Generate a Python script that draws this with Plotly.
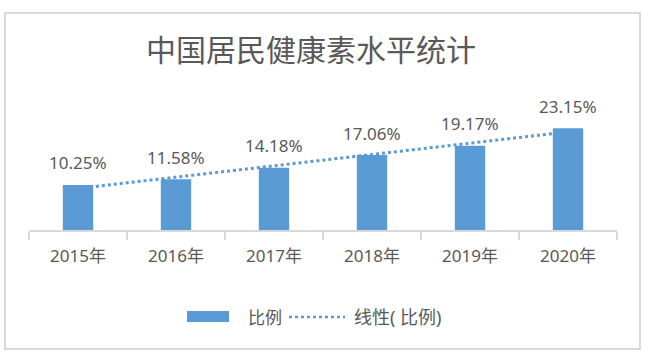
import numpy as np
import plotly.graph_objects as go

categories = ["2015年", "2016年", "2017年", "2018年", "2019年", "2020年"]
ratio = [10.25, 11.58, 14.18, 17.06, 19.17, 23.15]
title_text = "中国居民健康素水平统计"
series_name = "比例"
trend_name = "线性( 比例)"

BAR = "#5B9BD5"
TXT = "#595959"
GRID = "#D9D9D9"
FONT = "Noto Sans, Noto Sans CJK SC, sans-serif"

W, H = 650, 361
L, R, T, B = 29, 33, 107, 131
plot_w = W - L - R
plot_h = H - T - B
Y_MAX = 28


def px_x(px):
    return (px - L) / plot_w


def px_y(py):
    return (H - B - py) / plot_h


# linear trendline (least squares over category index), as in the spreadsheet chart
idx = np.arange(1, len(ratio) + 1)
slope, intercept = np.polyfit(idx, ratio, 1)
trend = slope * idx + intercept

fig = go.Figure()
fig.add_trace(go.Bar(x=categories, y=ratio, marker=dict(color=BAR, line=dict(width=0)),
                     name=series_name, showlegend=False))
fig.add_trace(go.Scatter(x=categories, y=trend, mode="lines", name=trend_name,
                         line=dict(color=BAR, width=3, dash="dot"), showlegend=False))

for c, v in zip(categories, ratio):
    fig.add_annotation(x=c, y=v, text=f"{v:.2f}%", showarrow=False, yshift=22,
                       font=dict(size=17, color=TXT, family=FONT))

# outer frame
fig.add_shape(type="rect", xref="paper", yref="paper",
              x0=px_x(5), x1=px_x(640), y0=px_y(349), y1=px_y(13),
              line=dict(color=GRID, width=2), layer="below")

# legend
fig.add_shape(type="rect", xref="paper", yref="paper",
              x0=px_x(187), x1=px_x(229), y0=px_y(322), y1=px_y(311),
              fillcolor=BAR, line=dict(width=0))
fig.add_annotation(xref="paper", yref="paper", x=px_x(246), y=px_y(317), text=series_name,
                   xanchor="left", yanchor="middle", showarrow=False,
                   font=dict(size=17, color=TXT, family=FONT))
fig.add_shape(type="line", xref="paper", yref="paper",
              x0=px_x(289), x1=px_x(345), y0=px_y(317), y1=px_y(317),
              line=dict(color=BAR, width=2.5, dash="dot"))
fig.add_annotation(xref="paper", yref="paper", x=px_x(352), y=px_y(317), text=trend_name,
                   xanchor="left", yanchor="middle", showarrow=False,
                   font=dict(size=18, color=TXT, family=FONT))

fig.update_layout(
    width=W, height=H,
    margin=dict(l=L, r=R, t=T, b=B),
    paper_bgcolor="white", plot_bgcolor="white",
    bargap=0.69,
    showlegend=False,
    title=dict(text=title_text, x=311 / W, xanchor="center", y=1 - 50 / H, yanchor="middle",
               font=dict(size=30, color=TXT, family="Noto Sans CJK SC, sans-serif")),
    xaxis=dict(showline=True, linecolor=GRID, linewidth=1.5, ticks="outside", tickson="boundaries",
               ticklen=8, tickcolor=GRID, tickwidth=1.5, showgrid=False, zeroline=False,
               tickfont=dict(size=17, color=TXT, family=FONT), ticklabelstandoff=10),
    yaxis=dict(range=[0, Y_MAX], visible=False, showgrid=False, zeroline=False),
)

fig.write_html("out.html", config={"displayModeBar": False},
               post_script="document.body.style.margin='0';")
